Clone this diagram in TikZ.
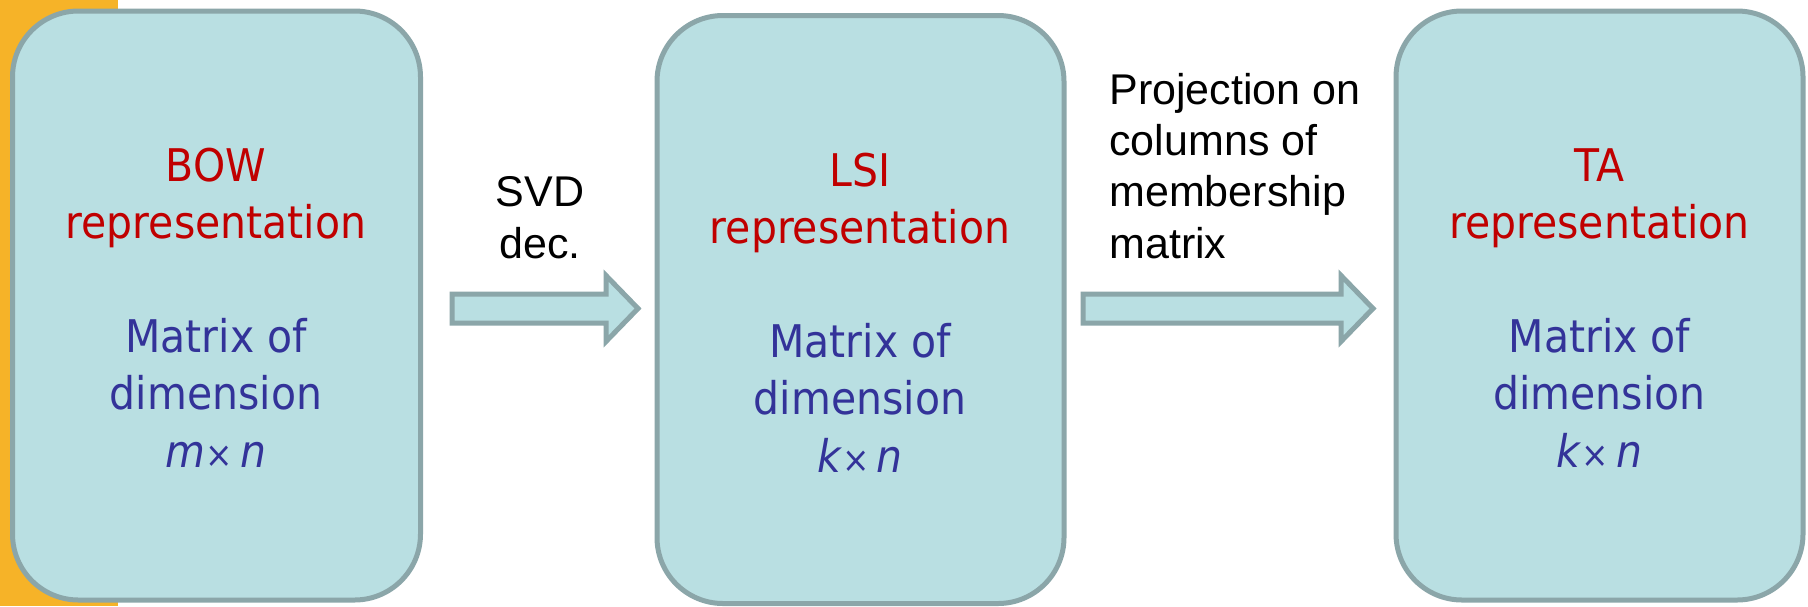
\documentclass[tikz,border=0pt]{standalone}
\usepackage{fontspec}
\usetikzlibrary{calc}
\newfontfamily\tahfont[FakeStretch=0.91]{DejaVu Sans}
\newfontfamily\arialfont{Liberation Sans}
\definecolor{barorange}{HTML}{F6B328}
\definecolor{boxfill}{HTML}{B9DFE2}
\definecolor{boxline}{HTML}{8BA6A9}
\definecolor{titlered}{HTML}{C00000}
\definecolor{bodyblue}{HTML}{333399}
\tikzset{
  box/.style={draw=boxline, fill=boxfill, line width=2.5pt, rounded corners=33pt,
    minimum width=204pt, minimum height=294.5pt, inner sep=0pt},
  boxtext/.style={align=center, text=bodyblue, anchor=base, inner sep=0pt,
    font=\tahfont\fontsize{22.5pt}{28.6pt}\selectfont},
  steplabel/.style={text=black, anchor=base, inner sep=0pt,
    font=\arialfont\fontsize{21.5pt}{25.6pt}\selectfont},
  blockarrow/.style={draw=boxline, fill=boxfill, line width=2.5pt, line join=miter}
}
\newcommand\blockarr[2]{%
  \draw[blockarrow] ($(#1)+(0,-14.5)$) -- ($(#2)+(-32,-14.5)$) -- ($(#2)+(-32,-33)$)
    -- (#2) -- ($(#2)+(-32,33)$) -- ($(#2)+(-32,14.5)$) -- ($(#1)+(0,14.5)$) -- cycle;}
\newcommand\mxsign{{\fontsize{18pt}{18pt}\selectfont\upshape ×}}
\begin{document}
\begin{tikzpicture}[x=0.5pt,y=-0.5pt]
\useasboundingbox (0,0) rectangle (1808,606);
\fill[white] (0,0) rectangle (1808,606);
\fill[barorange] (0,0) rectangle (118,606);

% boxes
\node[box] (b1) at (216.5,305.5) {};
\node[box, minimum width=203.5pt, minimum height=294pt] (b2) at (860.5,309.5) {};
\node[box, minimum width=203.5pt] (b3) at (1599.5,305.5) {};

% box texts (base anchor = last line)
\node[boxtext] (t1) at (216,467) {\textcolor{titlered}{BOW}\\\textcolor{titlered}{representation}\\[28.6pt]Matrix of\\dimension\\\textit{m}\mxsign\hspace{0.15em}\textit{n}};
\node[boxtext] (t2) at (860,472) {\textcolor{titlered}{LSI}\\\textcolor{titlered}{representation}\\[28.6pt]Matrix of\\dimension\\\textit{k}\mxsign\hspace{0.15em}\textit{n}};
\node[boxtext] (t3) at (1599.5,467) {\textcolor{titlered}{TA}\\\textcolor{titlered}{representation}\\[28.6pt]Matrix of\\dimension\\\textit{k}\mxsign\hspace{0.15em}\textit{n}};

% block arrows
\coordinate (a1s) at (452,308.5);
\coordinate (a1e) at (638,308.5);
\coordinate (a2s) at (1083,308.5);
\coordinate (a2e) at (1373,308.5);
\blockarr{a1s}{a1e}
\blockarr{a2s}{a2e}

% labels
\node[steplabel, align=center] (l1) at (540,258) {SVD\\dec.};
\node[steplabel, align=left, anchor=base west] (l2) at (1109,258)
  {Projection on\\columns of\\membership\\matrix};
\end{tikzpicture}
\end{document}
